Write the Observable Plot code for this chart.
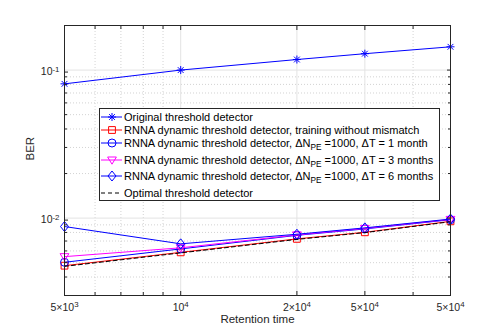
<!DOCTYPE html>
<html><head><meta charset="utf-8">
<script src="https://cdn.jsdelivr.net/npm/d3@7"></script>
<script src="https://cdn.jsdelivr.net/npm/@observablehq/plot@0.6"></script>
<style>
body{margin:0;background:#fff;font-family:"Liberation Sans",Arial,Helvetica,sans-serif;}
#wrap{position:relative;width:498px;height:332px;}
#legend{position:absolute;left:99px;top:108px;width:341px;height:93px;border:1px solid #262626;background:#fff;box-sizing:border-box;font-size:11px;color:#000;}
.row{position:absolute;left:0;height:16px;display:flex;align-items:center;white-space:nowrap;}
.row svg{margin-left:1px;margin-right:2px;flex:none;}
sub{font-size:0.75em;vertical-align:-0.4em;line-height:0;}
</style></head><body><div id="wrap"></div>
<script>
// ---- data ----
const retention = [5000, 10000, 20000, 30000, 50000];
const xTickLabels = ["5×10^3", "10^4", "2×10^4", "5×10^4", "5×10^4"];
const yTickValues = [0.01, 0.1];
const yTickLabels = ["10^-2", "10^-1"];
const xMinor = [6000, 7000, 8000, 9000, 40000];
const yMinor = [0.003, 0.004, 0.005, 0.006, 0.007, 0.008, 0.009, 0.02, 0.03, 0.04, 0.05, 0.06, 0.07, 0.08, 0.09, 0.2];

const berOriginal = [0.0807, 0.100, 0.1178, 0.129, 0.1436];
const berNoMismatch = [0.00477, 0.00587, 0.00724, 0.00802, 0.00951];
const ber1Month = [0.00503, 0.00619, 0.00765, 0.00845, 0.00975];
const ber3Months = [0.00549, 0.00630, 0.00770, 0.00852, 0.00980];
const ber6Months = [0.00877, 0.00670, 0.00778, 0.00859, 0.00985];
const berOptimal = [0.00472, 0.00582, 0.00718, 0.00798, 0.00945];

const seriesNames = [
  "Original threshold detector",
  "RNNA dynamic threshold detector, training without mismatch",
  "RNNA dynamic threshold detector, ΔN_PE =1000, ΔT = 1 month",
  "RNNA dynamic threshold detector, ΔN_PE =1000, ΔT = 3 months",
  "RNNA dynamic threshold detector, ΔN_PE =1000, ΔT = 6 months",
  "Optimal threshold detector"
];
const seriesValues = [berOriginal, berNoMismatch, ber1Month, ber3Months, ber6Months, berOptimal];

// ---- styles ----
function sym(f){ return {draw: (c, size) => f(c, Math.sqrt(size / Math.PI))}; }
const symAsterisk = sym((c, r) => { const d = r * 0.72; c.moveTo(-r,0); c.lineTo(r,0); c.moveTo(0,-r); c.lineTo(0,r); c.moveTo(-d,-d); c.lineTo(d,d); c.moveTo(-d,d); c.lineTo(d,-d); });
const symSquare = sym((c, r) => { const h = r * 0.85; c.moveTo(-h,-h); c.lineTo(h,-h); c.lineTo(h,h); c.lineTo(-h,h); c.closePath(); });
const symCircle = sym((c, r) => { c.moveTo(r,0); c.arc(0,0,r,0,2*Math.PI); });
const symTriDown = sym((c, r) => { c.moveTo(-r*1.1,-r*0.75); c.lineTo(r*1.1,-r*0.75); c.lineTo(0,r*1.05); c.closePath(); });
const symDiamond = sym((c, r) => { c.moveTo(0,-r*1.25); c.lineTo(r,0); c.lineTo(0,r*1.25); c.lineTo(-r,0); c.closePath(); });
const styles = [
  {color: "#0000ff", symbol: symAsterisk},
  {color: "#ff0000", symbol: symSquare},
  {color: "#0000ff", symbol: symCircle},
  {color: "#ff00ff", symbol: symTriDown},
  {color: "#0000ff", symbol: symDiamond},
  {color: "#000000", symbol: null, dash: "4,3"}
];

const rows = seriesValues.map((vals, s) => vals.map((v, i) => ({x: retention[i], y: v, s})));
const xLabelRows = retention.map((x, i) => ({x, label: xTickLabels[i]}));

const axisColor = "#262626";
const marks = [
  Plot.ruleX(xMinor, {stroke: "#c8c8c8", strokeDasharray: "1,2", strokeWidth: 0.8}),
  Plot.ruleY(yMinor, {stroke: "#c8c8c8", strokeDasharray: "1,2", strokeWidth: 0.8}),
  Plot.ruleX(retention, {stroke: "#e3e3e3"}),
  Plot.ruleY(yTickValues, {stroke: "#e3e3e3"}),
];
rows.forEach((data, s) => {
  const st = styles[s];
  marks.push(Plot.line(data, {x: "x", y: "y", stroke: st.color, strokeWidth: 1, strokeDasharray: st.dash || null}));
  if (st.symbol) marks.push(Plot.dot(data, {x: "x", y: "y", stroke: st.color, fill: "none", symbol: st.symbol, r: 4, strokeWidth: 1}));
});
marks.push(
  Plot.frame({stroke: axisColor}),
  Plot.axisX(retention, {anchor: "bottom", tickSize: -4, stroke: axisColor, tickFormat: () => ""}),
  Plot.axisX(retention, {anchor: "top", tickSize: -4, stroke: axisColor, tickFormat: () => ""}),
  Plot.axisX(xMinor, {anchor: "bottom", tickSize: -3, stroke: axisColor, tickFormat: () => ""}),
  Plot.axisX(xMinor, {anchor: "top", tickSize: -3, stroke: axisColor, tickFormat: () => ""}),
  Plot.text(xLabelRows, {x: "x", text: "label", frameAnchor: "bottom", dy: 15.5, fontSize: 10.5, fill: "#262626"}),
  Plot.axisY(yTickValues, {anchor: "left", tickSize: -4, tickPadding: 9, fontSize: 10.5, dy: 2, stroke: axisColor, fill: "#262626", tickFormat: (d) => yTickLabels[yTickValues.indexOf(d)]}),
  Plot.axisY(yTickValues, {anchor: "right", tickSize: -4, stroke: axisColor, tickFormat: () => ""}),
  Plot.axisY(yMinor, {anchor: "left", tickSize: -3, stroke: axisColor, tickFormat: () => ""}),
  Plot.axisY(yMinor, {anchor: "right", tickSize: -3, stroke: axisColor, tickFormat: () => ""}),
  Plot.text(["Retention time"], {frameAnchor: "bottom", dy: 27, fontSize: 11.5, fill: "#262626"}),
  Plot.text(["BER"], {frameAnchor: "left", dx: -34, rotate: -90, fontSize: 11.5, fill: "#262626"})
);

const svg = Plot.plot({
  width: 498, height: 332,
  marginLeft: 64, marginRight: 48, marginTop: 25, marginBottom: 37,
  style: {fontFamily: '"Liberation Sans", Arial, Helvetica, sans-serif', background: "#fff"},
  x: {type: "log", domain: [5000, 50000], label: null},
  y: {type: "log", domain: [0.003, 0.2], label: null},
  marks
});

// superscripts in tick labels
svg.querySelectorAll("text").forEach(t => {
  const s = t.textContent;
  if (!s.includes("^")) return;
  const [base, sup] = s.split("^");
  t.textContent = base;
  const ts = document.createElementNS("http://www.w3.org/2000/svg", "tspan");
  ts.setAttribute("font-size", "0.75em");
  ts.setAttribute("dy", "-0.45em");
  ts.textContent = sup;
  t.appendChild(ts);
});

const wrap = document.getElementById("wrap");
wrap.appendChild(svg);

// legend
const legend = document.createElement("div");
legend.id = "legend";
const rowCenters = [117.3, 129.6, 143, 159.5, 175.5, 193];
seriesNames.forEach((name, i) => {
  const st = styles[i];
  const row = document.createElement("div");
  row.className = "row";
  row.style.top = (rowCenters[i] - 109 - 8) + "px";
  let markerPath = "";
  if (st.symbol) { const p = d3.path(); st.symbol.draw(p, Math.PI * 16); markerPath = `<path transform="translate(11,8)" d="${p}" fill="none" stroke="${st.color}"/>`; }
  const swatch = `<svg width="21" height="16"><line x1="0" x2="21" y1="8" y2="8" stroke="${st.color}" ${st.dash ? `stroke-dasharray="${st.dash}"` : ""}/>${markerPath}</svg>`;
  const label = name.replace(/_PE/, "<sub>PE</sub>");
  row.innerHTML = swatch + `<span>${label}</span>`;
  legend.appendChild(row);
});
wrap.appendChild(legend);
</script></body></html>
